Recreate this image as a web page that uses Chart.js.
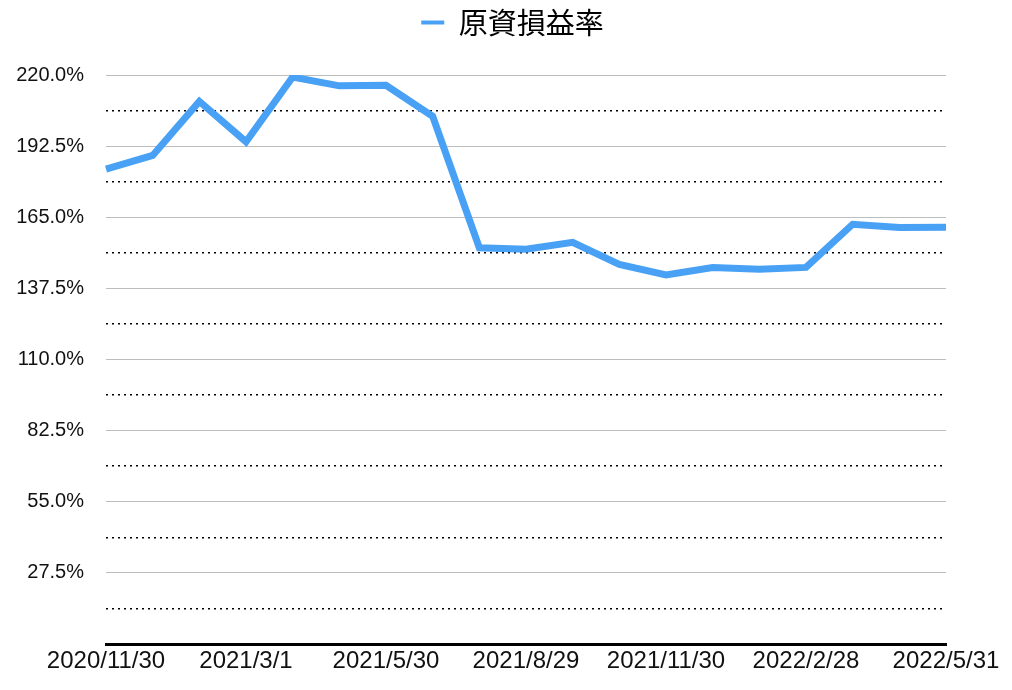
<!DOCTYPE html>
<html>
<head>
<meta charset="utf-8">
<script src="https://cdn.jsdelivr.net/npm/chart.js@4"></script>
<style>
  html, body { margin: 0; padding: 0; background: #fff; }
  #wrap { width: 1012px; height: 690px; }
</style>
</head>
<body>
<div id="wrap"><canvas id="lossChart" width="1012" height="690"></canvas></div>
<script>
// month-end dates (only every third one is labelled)
const dates = [
  '2020/11/30', '2020/12/30', '2021/1/30', '2021/3/1', '2021/3/30', '2021/4/30',
  '2021/5/30', '2021/6/30', '2021/7/30', '2021/8/29', '2021/9/30', '2021/10/30',
  '2021/11/30', '2021/12/30', '2022/1/30', '2022/2/28', '2022/3/30', '2022/4/30',
  '2022/5/31'
];
const seriesName = '原資損益率';
const rates = [
  183.6, 188.9, 209.8, 194.2, 219.2, 215.8, 216.0, 204.0, 153.2, 152.6,
  155.3, 146.8, 142.7, 145.6, 144.9, 145.6, 162.3, 161.0, 161.1
];
const yMin = 0;
const yMax = 220;
const majorStep = 27.5;
const minorStep = 13.75;

const lineBlue = '#48a1f5';
const gridGray = '#bdbdbd';

// room under the legend, and move the legend a little right
const legendSpace = {
  id: 'legendSpace',
  beforeInit(chart) {
    const fit = chart.legend.fit;
    chart.legend.fit = function () {
      fit.bind(chart.legend)();
      this.height += 28;
    };
  },
  afterLayout(chart) {
    chart.legend.left += 31;
    chart.legend.right += 31;
  }
};

new Chart(document.getElementById('lossChart'), {
  type: 'line',
  data: {
    labels: dates,
    datasets: [{
      label: seriesName,
      data: rates,
      borderColor: lineBlue,
      backgroundColor: lineBlue,
      borderWidth: 7,
      borderJoinStyle: 'miter',
      pointRadius: 0,
      tension: 0,
      yAxisID: 'y'
    }]
  },
  options: {
    responsive: false,
    animation: false,
    layout: { padding: { left: 17, right: 66, top: 0, bottom: 0 } },
    plugins: {
      legend: {
        position: 'top',
        labels: {
          boxWidth: 23,
          boxHeight: 4,
          padding: 8,
          color: '#111',
          font: { size: 29, family: "'Noto Sans CJK JP', sans-serif" },
          generateLabels: () => [{
            text: seriesName,
            fillStyle: lineBlue,
            strokeStyle: lineBlue,
            lineWidth: 0,
            hidden: false,
            datasetIndex: 0
          }]
        }
      },
      tooltip: { enabled: false }
    },
    scales: {
      x: {
        offset: false,
        afterFit: axis => { axis.height = 46; },
        grid: { display: false, drawTicks: false },
        border: { display: true, color: '#000', width: 3 },
        ticks: {
          autoSkip: false,
          maxRotation: 0,
          padding: 3,
          color: '#111',
          font: { size: 24, family: "'Liberation Sans', Arial, sans-serif" },
          callback: function (v, i) { return i % 3 === 0 ? dates[i] : ''; }
        }
      },
      y: {
        position: 'left',
        min: yMin,
        max: yMax,
        afterFit: axis => { axis.width = 89; },
        grid: { color: gridGray, lineWidth: 1, drawTicks: false },
        border: { display: false },
        ticks: {
          stepSize: majorStep,
          padding: 22,
          color: '#111',
          font: { size: 20, family: "'Liberation Sans', Arial, sans-serif" },
          callback: v => v === 0 ? '' : v.toFixed(1) + '%'
        }
      },
      // dotted lines half way between the labelled ones
      yMinor: {
        position: 'left',
        min: yMin,
        max: yMax,
        afterFit: axis => { axis.width = 0; },
        grid: {
          drawTicks: false,
          lineWidth: 1.5,
          color: ctx => (ctx.index % 2 === 1 ? '#000' : 'rgba(0,0,0,0)')
        },
        border: { display: false, dash: [2, 4] },
        ticks: { display: false, stepSize: minorStep }
      }
    }
  },
  plugins: [legendSpace]
});
</script>
</body>
</html>
